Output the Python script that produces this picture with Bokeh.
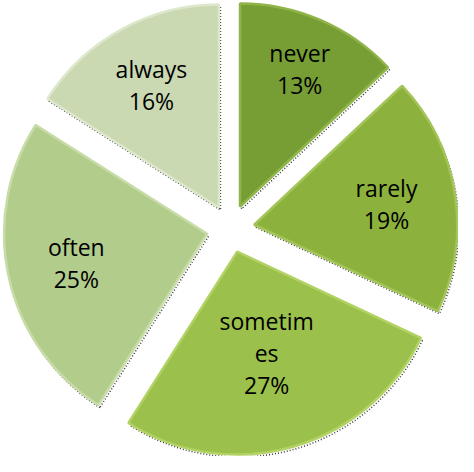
import numpy as np
from bokeh.plotting import figure
from bokeh.models import Range1d
from bokeh.core.properties import value
from bokeh.embed import file_html
from bokeh.resources import INLINE

# ---- data ----
categories = ["never", "rarely", "sometimes", "often", "always"]
label_names = ["never", "rarely", "sometim\nes", "often", "always"]
percent = [13, 19, 27, 25, 16]

# ---- styles / layout ----
colors = ["#779e34", "#8cb23d", "#9bc04b", "#b2cc8c", "#cad9b2"]
rim_colors = ["#8fb448", "#a3c458", "#b2d264", "#c8dca8", "#dce7cb"]
W, H = 458, 456
CX, CY = 230, 228
R = 203
EXPLODE = 24
LABEL_FRAC = [0.74, 0.66, 0.52, 0.66, 0.69]

vals = np.array(percent, dtype=float)
frac = vals / vals.sum()
ends = np.cumsum(frac) * 2 * np.pi          # clockwise from north
starts = ends - frac * 2 * np.pi
mids = (starts + ends) / 2
ax = CX + EXPLODE * np.sin(mids)
ay = CY + EXPLODE * np.cos(mids)
start_angle = np.pi / 2 - starts
end_angle = np.pi / 2 - ends

p = figure(width=W, height=H, output_backend="svg", toolbar_location=None,
           x_range=Range1d(0, W), y_range=Range1d(0, H), min_border=0)
p.axis.visible = False
p.grid.visible = False
p.outline_line_color = None
p.background_fill_color = "white"
p.border_fill_color = "white"

# dithered drop shadow
p.wedge(x=ax + 1.5, y=ay - 2.5, radius=R, start_angle=start_angle, end_angle=end_angle,
        direction="clock", fill_color=None, line_color="#3a3a3a",
        line_dash="1 2", line_width=1.5)

# slices
p.wedge(x=ax, y=ay, radius=R, start_angle=start_angle, end_angle=end_angle,
        direction="clock", fill_color=colors, line_color=rim_colors, line_width=2.5)

lx = ax + np.array(LABEL_FRAC) * R * np.sin(mids)
ly = ay + np.array(LABEL_FRAC) * R * np.cos(mids)
texts = [f"{n}\n{v}%" for n, v in zip(label_names, percent)]
p.text(x=lx, y=ly, text=texts, text_align="center", text_baseline="middle",
       text_font=value("Open Sans"), text_font_size="23px", text_color="#000000",
       text_line_height=1.0)

open("out.html", "w").write(file_html(p, INLINE))
